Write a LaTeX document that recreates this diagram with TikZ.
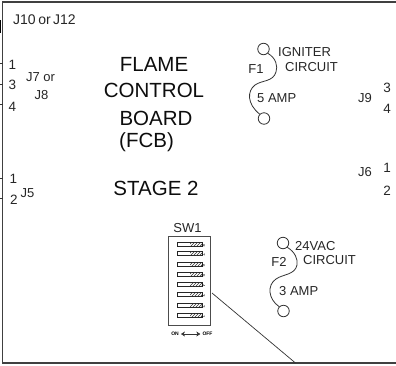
\documentclass[tikz,border=0pt]{standalone}
\usepackage{fontspec}
\setmainfont{Liberation Sans}
\usepackage{tikz}
\usetikzlibrary{calc,positioning,arrows.meta,patterns}
\tikzstyle{lbl}       = [inner sep=0pt, text=black!85, font=\fontsize{13}{15}\selectfont]
\tikzstyle{pin}       = [inner sep=0pt, text=black!85, font=\fontsize{13.5}{15}\selectfont]
\tikzstyle{title}     = [inner sep=0pt, text=black!95, font=\fontsize{20.5}{23}\selectfont]
\tikzstyle{fuseend}   = [circle, draw=black!80, line width=0.8pt, minimum size=11.5pt, inner sep=0pt]
\tikzstyle{fuseline}  = [draw=black!80, line width=0.8pt]
\tikzstyle{tick}      = [draw=black!80, line width=0.7pt]
\tikzstyle{tiny}      = [inner sep=0pt, font=\bfseries\fontsize{5}{6}\selectfont]

\begin{document}
\begin{tikzpicture}[x=1pt,y=-1pt]
		\useasboundingbox (0,0) rectangle (396,365);

		% board outline
		\coordinate (topL) at (2.5,2);
		\coordinate (topR) at (396,2);
		\coordinate (botL) at (2.5,363);
		\coordinate (botR) at (396,363);
		\draw[black!75, line width=1.1pt] (topR) -- (topL) -- (botL) -- (botR);

		% edge marks
		\foreach \y/\name in {63/a,84/b,104/c,178/d,198/e} {
			\coordinate (m\name) at (0,\y);
			\coordinate (n\name) at (2.5,\y);
			\draw[tick] (m\name) -- (n\name);
		}
		\coordinate (ma) at (0,20);
		\coordinate (mb) at (0,33);
		\draw[black, line width=1.4pt] (ma) -- (mb);

		% left connectors
		\node[lbl, anchor=west, font=\fontsize{14}{15}\selectfont] (j10) at (13,20) {J10\hspace{2.5pt}or\hspace{2.5pt}J12};
		\node[pin] (p1) at (12.5,65) {1};
		\node[pin] (p3) at (12.5,85) {3};
		\node[pin] (p4) at (12.5,106.5) {4};
		\node[lbl] (j7) at (40.5,77) {J7 or};
		\node[lbl] (j8) at (41.5,95) {J8};
		\node[pin] (p1b) at (13.5,179) {1};
		\node[pin] (p2b) at (14,200) {2};
		\node[lbl] (j5) at (27.5,193.5) {J5};

		% title
		\node[title] (flame) at (154,64) {FLAME};
		\node[title] (control) at (154,90) {CONTROL};
		\node[title] (board) at (156,118.5) {BOARD};
		\node[title] (fcb) at (146.5,142) {(FCB)};
		\node[title] (stage) at (156,188) {STAGE 2};

		% right connectors
		\node[lbl] (j9) at (365,98) {J9};
		\node[pin] (r3) at (387,88) {3};
		\node[pin] (r4) at (387,109) {4};
		\node[lbl] (j6) at (365,172) {J6};
		\node[pin] (r1) at (387,168) {1};
		\node[pin] (r2) at (387,191) {2};

		% fuse F1
		\node[fuseend] (f1top) at (263.5,49) {};
		\node[fuseend] (f1bot) at (264,118.5) {};
		\draw[fuseline] (f1top.south east) .. controls (276,58) and (278,66) .. (276,72)
			.. controls (273,82) and (262,80) .. (255,85)
			.. controls (247,91) and (247,104) .. (f1bot.north west);
		\node[lbl, anchor=west] (ign) at (278,52.5) {IGNITER};
		\node[lbl, anchor=west] (circ1) at (285,67) {CIRCUIT};
		\node[lbl] (f1) at (256,69) {F1};
		\node[lbl, anchor=west] (amp5) at (257,98) {5 AMP};

		% fuse F2
		\node[fuseend] (f2top) at (283,243) {};
		\node[fuseend] (f2bot) at (283.5,311) {};
		\draw[fuseline] (f2top.south east) .. controls (295,252) and (298,259) .. (297,265)
			.. controls (295,275) and (283,274) .. (276,279)
			.. controls (267,285) and (268,299) .. (f2bot.north west);
		\node[lbl, anchor=west] (vac) at (295,246) {24VAC};
		\node[lbl, anchor=west] (circ2) at (303,260) {CIRCUIT};
		\node[lbl] (f2) at (279,262) {F2};
		\node[lbl, anchor=west] (amp3) at (279,291) {3 AMP};

		% switch block
		\node[lbl] (sw1) at (187.5,228) {SW1};
		\node[draw=black!70, line width=0.9pt, minimum width=42pt, minimum height=89pt, inner sep=0pt] (swbox) at (189,280.5) {};
		\foreach \y/\n in {244/8,253.5/7,264/6,274.5/5,284.5/4,294.5/3,305/2,315/1} {
			\node[draw=black!85, line width=0.7pt, minimum width=25pt, minimum height=3.8pt, inner sep=0pt] (sw\n) at (189.5,\y) {};
			\path[pattern=north east lines, pattern color=black!80] (190,\y-1.9) rectangle (202,\y+1.9);
			\node[inner sep=0pt, font=\fontsize{4.5}{5}\selectfont, rotate=-90, right=1pt of sw\n] (num\n) {\n};
		}
		\node[tiny] (on) at (175,334) {ON};
		\node[tiny] (off) at (207.5,334) {OFF};
		\draw[{Stealth[length=4pt,width=5pt]}-{Stealth[length=4pt,width=5pt]}, black!80, line width=0.5pt, shorten <=2pt, shorten >=2pt] (on) -- (off);

		% lead
		\coordinate (leadA) at (212,293);
		\coordinate (leadB) at (295.5,363);
		\draw[black!80, line width=0.7pt] (leadA) -- (leadB);
	\end{tikzpicture}
\end{document}
